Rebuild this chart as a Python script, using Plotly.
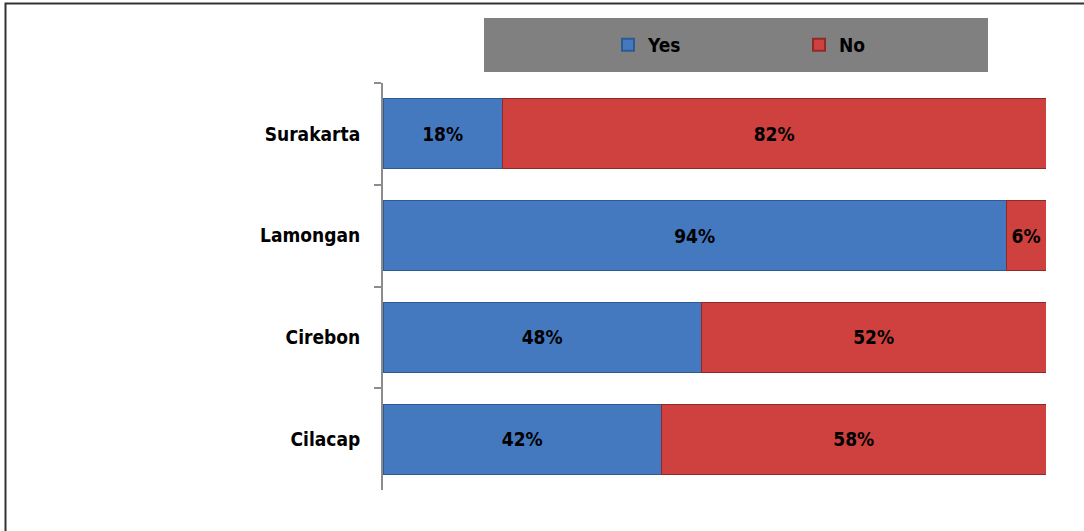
import plotly.graph_objects as go

cities = ["Surakarta", "Lamongan", "Cirebon", "Cilacap"]
yes_vals = [18, 94, 48, 42]
no_vals = [82, 6, 52, 58]

W, H = 1084, 531
L, R, T, B = 383, 38, 83, 41
pw, ph = W - L - R, H - T - B

def px_x(x):
    return (x - L) / pw

def px_y(y):
    return 1 - (y - T) / ph

FONT = "DejaVu Sans Condensed, Liberation Sans Narrow, Arial Narrow, sans-serif"

fig = go.Figure()
fig.add_trace(go.Bar(
    y=cities, x=yes_vals, name="Yes", orientation="h",
    marker=dict(color="#4479C0", line=dict(color="#2E5A94", width=1)),
    texttemplate="%{x}%", textposition="inside", insidetextanchor="middle",
    textfont=dict(family=FONT, size=19, color="black", weight="bold"),
))
fig.add_trace(go.Bar(
    y=cities, x=no_vals, name="No", orientation="h",
    marker=dict(color="#CE413E", line=dict(color="#8E2B29", width=1)),
    texttemplate="%{x}%", textposition="inside", insidetextanchor="middle",
    textfont=dict(family=FONT, size=19, color="black", weight="bold"),
))

fig.update_layout(
    width=W, height=H,
    margin=dict(l=L, r=R, t=T, b=B),
    barmode="stack", bargap=0.31,
    paper_bgcolor="white", plot_bgcolor="white",
    showlegend=True,
    legend=dict(
        orientation="h", x=px_x(608), xanchor="left", y=px_y(45), yanchor="middle",
        bgcolor="rgba(0,0,0,0)", font=dict(family=FONT, size=19, color="black", weight="bold"),
        entrywidth=146, entrywidthmode="pixels", itemsizing="constant",
        traceorder="normal",
    ),
    xaxis=dict(range=[0, 100], visible=False, fixedrange=True),
    yaxis=dict(
        categoryorder="array", categoryarray=cities, autorange="reversed",
        showline=True, linecolor="#8C8C8C", linewidth=2,
        ticks="outside", ticklen=7, tickcolor="#8C8C8C", tickwidth=2,
        tickson="boundaries", ticklabelstandoff=17,
        tickfont=dict(family=FONT, size=19, color="black", weight="bold"),
        showgrid=False, zeroline=False,
    ),
    shapes=[
        dict(type="rect", xref="paper", yref="paper",
             x0=px_x(484), x1=px_x(988), y0=px_y(72), y1=px_y(18),
             fillcolor="#808080", line=dict(width=0), layer="below"),
        dict(type="rect", xref="paper", yref="paper",
             x0=px_x(5.5), x1=px_x(1100), y0=px_y(560), y1=px_y(3.5),
             line=dict(color="#333333", width=2), fillcolor="rgba(0,0,0,0)"),
    ],
)

fig.write_html("out.html", config={"displayModeBar": False},
               post_script="document.body.style.margin='0px';document.body.style.padding='0px';")
